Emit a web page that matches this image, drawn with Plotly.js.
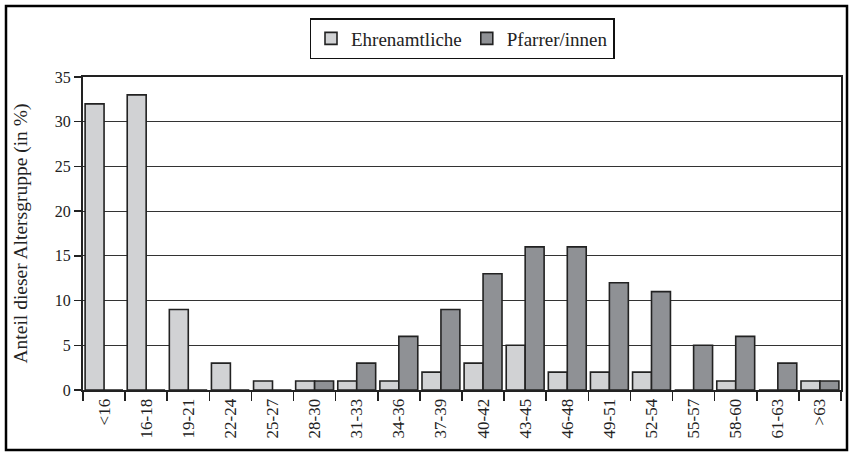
<!DOCTYPE html>
<html>
<head>
<meta charset="utf-8">
<script src="https://cdn.plot.ly/plotly-3.0.1.min.js"></script>
<style>
html,body{margin:0;padding:0;background:#fff;}
#chart{width:852px;height:453px;}
</style>
</head>
<body>
<div id="chart"></div>
<script>
const categories = ["<16","16-18","19-21","22-24","25-27","28-30","31-33","34-36","37-39","40-42","43-45","46-48","49-51","52-54","55-57","58-60","61-63",">63"];
const ehrenamtliche = [32,33,9,3,1,1,1,1,2,3,5,2,2,2,0,1,0,1];
const pfarrer = [0,0,0,0,0,1,3,6,9,13,16,16,12,11,5,6,3,1];
const yTicks = [0,5,10,15,20,25,30,35];

const font = "Liberation Serif, Times New Roman, serif";
const L = 83, R = 11, T = 77, B = 63, W = 852, H = 453;
const pw = W - L - R, ph = H - T - B;
const px = v => (v - L) / pw;
const py = v => (H - B - v) / ph;

const traces = [
  {type:"bar", name:"Ehrenamtliche", x:categories, y:ehrenamtliche,
   marker:{color:"#d1d2d4", line:{color:"#222", width:1.6}}},
  {type:"bar", name:"Pfarrer/innen", x:categories, y:pfarrer,
   marker:{color:"#8f9195", line:{color:"#222", width:1.6}}}
];

const layout = {
  width:W, height:H,
  margin:{l:L, r:R, t:T, b:B, pad:0},
  paper_bgcolor:"#fff", plot_bgcolor:"#fff",
  font:{family:font, size:15, color:"#222"},
  barmode:"group", bargap:0.1, bargroupgap:0,
  showlegend:true,
  legend:{orientation:"h", x:0.5, xanchor:"center", y:py(18), yanchor:"top",
          bordercolor:"#111", borderwidth:1.5, font:{family:font, size:19, color:"#222"},
          itemwidth:30, tracegroupgap:0, bgcolor:"#fff"},
  xaxis:{type:"category", showline:true, linecolor:"#222", linewidth:2, mirror:true,
         ticks:"outside", tickson:"boundaries", ticklen:9, tickwidth:1.5, tickcolor:"#222",
         tickangle:-90, tickfont:{family:font, size:17, color:"#222"}, showgrid:false,
         fixedrange:true},
  yaxis:{range:[0,35], tickvals:yTicks, ticktext:yTicks.map(String),
         showline:true, linecolor:"#222", linewidth:2, mirror:true,
         ticks:"outside", ticklen:7, tickwidth:1.5, tickcolor:"#222",
         showgrid:true, gridcolor:"#333", gridwidth:1, zeroline:false,
         tickfont:{family:font, size:16, color:"#222"},
         title:{text:"Anteil dieser Altersgruppe (in %)", font:{family:font, size:19.5, color:"#222"}, standoff:22},
         fixedrange:true},
  shapes:[{type:"rect", xref:"paper", yref:"paper",
           x0:px(6), x1:px(847), y0:py(450), y1:py(6),
           line:{color:"#000", width:2.5}, fillcolor:"rgba(0,0,0,0)", layer:"above"}]
};

Plotly.newPlot("chart", traces, layout, {displayModeBar:false, staticPlot:true});
</script>
</body>
</html>
